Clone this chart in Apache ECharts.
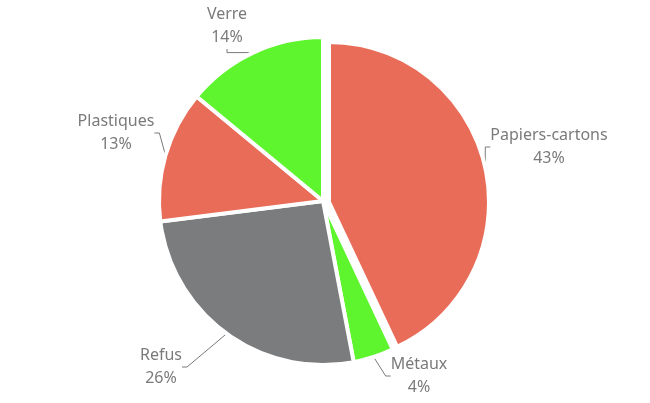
<!DOCTYPE html>
<html>
<head>
<meta charset="utf-8">
<script src="https://cdn.jsdelivr.net/npm/echarts@6/dist/echarts.min.js"></script>
<style>
  html, body { margin: 0; padding: 0; background: #fff; }
  #chart { width: 650px; height: 403px; }
</style>
</head>
<body>
<div id="chart"></div>
<script>
// catégories et parts (%)
var categories = ['Papiers-cartons', 'Métaux', 'Refus', 'Plastiques', 'Verre'];
var shares = [43, 4, 26, 13, 14];
var sliceColors = ['#E96C58', '#5EF52E', '#7B7C7E', '#E96C58', '#5EF52E'];
var explodedIndex = 0; // part détachée (Papiers-cartons)

// position des étiquettes (centre du bloc de texte)
var labelPos = [[549, 147], [419, 376], [161, 367], [116, 133], [227, 26]];

var chart = echarts.init(document.getElementById('chart'));

function pieSeries(center, radius, showExploded) {
  return {
    type: 'pie',
    center: center,
    radius: radius,
    startAngle: 90,
    clockwise: true,
    percentPrecision: 0,
    silent: true,
    itemStyle: { borderColor: '#fff', borderWidth: 4 },
    emphasis: { disabled: true },
    label: {
      formatter: '{b}\n{d}%',
      color: '#7A7A7A',
      fontFamily: 'Noto Sans',
      fontSize: 16,
      lineHeight: 23,
      align: 'center'
    },
    labelLine: {
      show: true,
      length: 10,
      length2: 5,
      lineStyle: { color: '#7A7A7A', width: 1 }
    },
    labelLayout: function (params) {
      var p = labelPos[params.dataIndex];
      return { x: p[0], y: p[1], align: 'center', verticalAlign: 'middle' };
    },
    data: categories.map(function (name, i) {
      var visible = (i === explodedIndex) === showExploded;
      return {
        name: name,
        value: shares[i],
        itemStyle: visible ? { color: sliceColors[i] } : { color: 'rgba(0,0,0,0)', borderWidth: 0 },
        label: { show: visible },
        labelLine: { show: visible }
      };
    })
  };
}

chart.setOption({
  backgroundColor: '#fff',
  animation: false,
  series: [
    pieSeries([323, 201], 164, false),
    pieSeries([329, 202], 160, true)
  ]
});
</script>
</body>
</html>
